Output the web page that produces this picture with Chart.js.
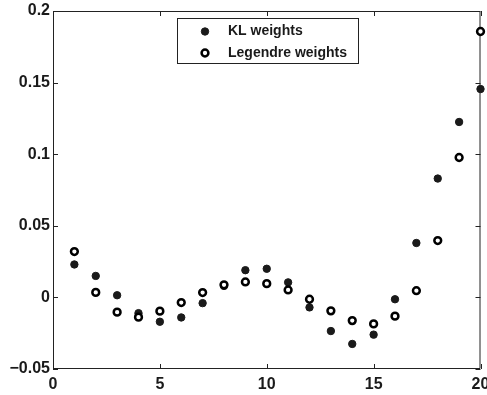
<!DOCTYPE html>
<html lang="en">
<head>
    <meta charset="UTF-8">
    <title>KL vs Legendre weights</title>
    <script src="https://cdn.jsdelivr.net/npm/chart.js"></script>
    <style>
        body { margin: 0; background: #fff; }
        #wrap { width: 487px; height: 395px; }
    </style>
</head>
<body>
    <div id="wrap"><canvas id="weightsChart" width="487" height="395"></canvas></div>

    <script>
        // data
        const indices = [1, 2, 3, 4, 5, 6, 7, 8, 9, 10, 11, 12, 13, 14, 15, 16, 17, 18, 19, 20];
        const klWeights = [0.023, 0.015, 0.0015, -0.011, -0.017, -0.014, -0.004, 0.008, 0.019, 0.020,
                           0.0105, -0.007, -0.0235, -0.0325, -0.026, -0.0013, 0.038, 0.083, 0.1225, 0.1455];
        const legendreWeights = [0.032, 0.0035, -0.0103, -0.0138, -0.0096, -0.0036, 0.0034, 0.0088, 0.0108, 0.0096,
                                 0.0052, -0.0013, -0.0094, -0.0162, -0.0185, -0.0131, 0.0047, 0.0397, 0.0977, 0.1857];
        const seriesNames = ['KL weights', 'Legendre weights'];
        const xTicks = [0, 5, 10, 15, 20];
        const yTicks = [-0.05, 0, 0.05, 0.1, 0.15, 0.2];

        const ink = '#1a1a1a';
        const fontFamily = "Arial, 'Liberation Sans', Helvetica, sans-serif";

        function fmt(v) {
            const s = String(Number(v.toFixed(2)));
            return s.charAt(0) === '-' ? '\u2212' + s.slice(1) : s;
        }

        // box round the plot plus inward ticks on all four sides (matlab style)
        const frameTicks = {
            id: 'frameTicks',
            beforeDatasetsDraw(chart) {
                const { ctx, chartArea: a, scales: { x, y } } = chart;
                const len = 5;
                ctx.save();
                ctx.strokeStyle = '#222';
                ctx.lineWidth = 1;
                ctx.beginPath();
                ctx.rect(a.left + 0.5, a.top + 0.5, a.right - a.left - 1, a.bottom - a.top - 1);
                xTicks.forEach(t => {
                    const px = Math.round(x.getPixelForValue(t)) + 0.5;
                    ctx.moveTo(px, a.bottom); ctx.lineTo(px, a.bottom - len);
                    ctx.moveTo(px, a.top); ctx.lineTo(px, a.top + len);
                });
                yTicks.forEach(t => {
                    const py = Math.round(y.getPixelForValue(t)) + 0.5;
                    ctx.moveTo(a.left, py); ctx.lineTo(a.left + len, py);
                    ctx.moveTo(a.right, py); ctx.lineTo(a.right - len, py);
                });
                ctx.stroke();
                ctx.restore();
            }
        };

        // boxed legend inside the axes, near the top
        const boxLegend = {
            id: 'boxLegend',
            afterDraw(chart) {
                const { ctx, chartArea: a } = chart;
                const bx = a.left + 124, by = a.top + 7, bw = 181, bh = 45;
                ctx.save();
                ctx.fillStyle = '#fff';
                ctx.fillRect(bx, by, bw, bh);
                ctx.strokeStyle = '#222';
                ctx.lineWidth = 1;
                ctx.strokeRect(bx + 0.5, by + 0.5, bw, bh);
                ctx.font = 'bold 14px ' + fontFamily;
                ctx.textBaseline = 'middle';
                chart.data.datasets.forEach((ds, i) => {
                    const cy = by + 13.5 + i * 21.5;
                    const cx = bx + 28;
                    ctx.beginPath();
                    ctx.arc(cx, cy, ds.pointRadius, 0, Math.PI * 2);
                    ctx.fillStyle = ds.pointBackgroundColor;
                    ctx.fill();
                    ctx.lineWidth = ds.pointBorderWidth;
                    ctx.strokeStyle = ds.pointBorderColor;
                    ctx.stroke();
                    ctx.fillStyle = ink;
                    ctx.fillText(ds.label, bx + 51, cy);
                });
                ctx.restore();
            }
        };

        const ctx = document.getElementById('weightsChart').getContext('2d');
        new Chart(ctx, {
            type: 'scatter',
            data: {
                datasets: [
                    {
                        label: seriesNames[0],
                        data: indices.map((v, i) => ({ x: v, y: klWeights[i] })),
                        pointRadius: 3.7,
                        pointBackgroundColor: ink,
                        pointBorderColor: ink,
                        pointBorderWidth: 1,
                        order: 1,
                        clip: false
                    },
                    {
                        label: seriesNames[1],
                        data: indices.map((v, i) => ({ x: v, y: legendreWeights[i] })),
                        pointRadius: 3.4,
                        pointBackgroundColor: '#fff',
                        pointBorderColor: '#000',
                        pointBorderWidth: 2.5,
                        order: 0,
                        clip: false
                    }
                ]
            },
            options: {
                responsive: false,
                animation: false,
                devicePixelRatio: 1,
                layout: { padding: { top: 11, right: 5, bottom: 0, left: 0 } },
                plugins: {
                    legend: { display: false },
                    tooltip: { enabled: false }
                },
                scales: {
                    x: {
                        type: 'linear',
                        min: 0,
                        max: 20,
                        afterBuildTicks: s => { s.ticks = xTicks.map(v => ({ value: v })); },
                        afterFit: s => { s.height = 26; s.paddingLeft = 0; s.paddingRight = 0; },
                        grid: { display: false, drawTicks: false },
                        border: { display: false },
                        ticks: {
                            padding: 6,
                            maxRotation: 0,
                            color: ink,
                            font: { family: fontFamily, size: 16, weight: 'bold' }
                        }
                    },
                    y: {
                        type: 'linear',
                        min: -0.05,
                        max: 0.2,
                        afterBuildTicks: s => { s.ticks = yTicks.map(v => ({ value: v })); },
                        afterFit: s => { s.width = 53; s.paddingTop = 0; s.paddingBottom = 0; },
                        grid: { display: false, drawTicks: false },
                        border: { display: false },
                        ticks: {
                            padding: 3,
                            color: ink,
                            callback: v => fmt(v),
                            font: { family: fontFamily, size: 16, weight: 'bold' }
                        }
                    }
                }
            },
            plugins: [frameTicks, boxLegend]
        });
    </script>
</body>
</html>
